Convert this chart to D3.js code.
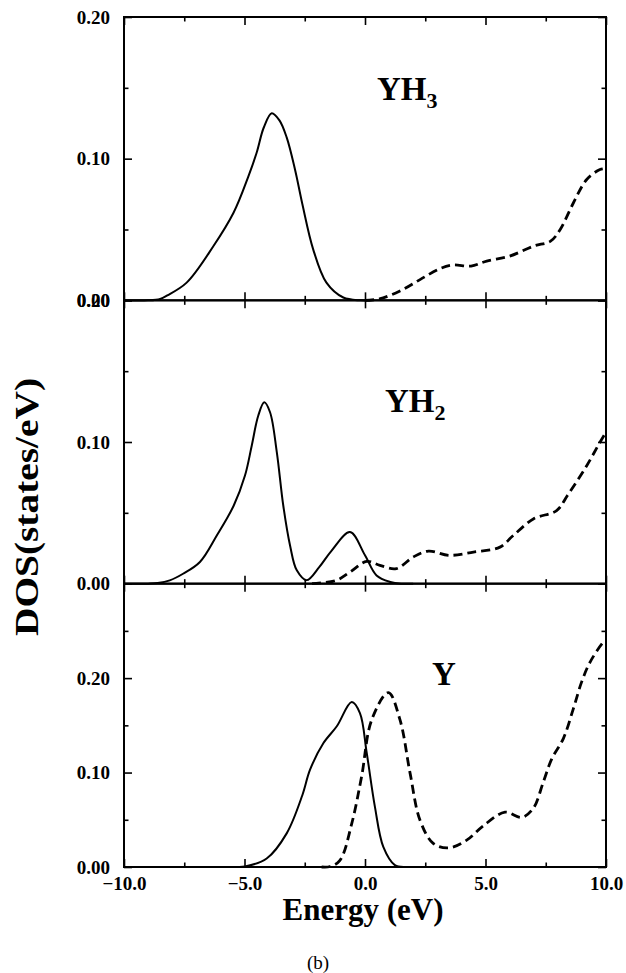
<!DOCTYPE html>
<html>
<head>
<meta charset="utf-8">
<script src="https://cdn.jsdelivr.net/npm/d3@7"></script>
<style>
  body { margin: 0; background: #fff; }
  text { font-family: "Liberation Serif", "Times New Roman", serif; }
</style>
</head>
<body>
<div id="dos-chart"></div>
<script>
// DOS of YH3, YH2 and Y, occupied (solid) and empty (dashed) states

// x axis
var energyTicks = [-10, -5, 0, 5, 10]
var energyMinor = [-7.5, -2.5, 2.5, 7.5]

// panel names, y ranges and y tick labels (top to bottom)
var panelNames = ["YH3", "YH2", "Y"]
var panelMax = [0.20, 0.20, 0.30]
var panelTicks = [[0, 0.1, 0.2], [0, 0.1, 0.2], [0, 0.1, 0.2]]
var panelMinor = [[0.05, 0.15], [0.05, 0.15], [0.05, 0.15, 0.25]]

// [energy, DOS]
var yh3Solid = [[-10, 0], [-9, 0], [-8.5, 0.001], [-8.2, 0.0035], [-7.4, 0.0125], [-6.3, 0.038], [-5.45, 0.062],
  [-4.85, 0.087], [-4.5, 0.104], [-4.2, 0.122], [-3.87, 0.132], [-3.55, 0.127], [-3.25, 0.115],
  [-2.9, 0.092], [-2.6, 0.068], [-2.15, 0.036], [-1.6, 0.0125], [-0.9, 0.002], [-0.2, 0], [0.2, 0]]
var yh3Dashed = [[0, 0], [0.6, 0.001], [1.45, 0.0066], [2.3, 0.0148], [3.1, 0.0223], [3.65, 0.0249],
  [4.4, 0.0242], [5.05, 0.0277], [6.0, 0.0312], [7.0, 0.0383], [7.7, 0.0418], [8.1, 0.05],
  [8.65, 0.0689], [9.2, 0.0853], [9.75, 0.0923], [10, 0.093]]

var yh2Solid = [[-10, 0], [-9, 0], [-8.6, 0.0004], [-8.1, 0.0023], [-7.55, 0.007], [-6.85, 0.0153],
  [-6.15, 0.034], [-5.45, 0.055], [-4.98, 0.0763], [-4.7, 0.0974], [-4.43, 0.1185], [-4.18, 0.128],
  [-3.94, 0.121], [-3.66, 0.0929], [-3.39, 0.055], [-3.11, 0.027], [-2.83, 0.0094], [-2.42, 0.0025],
  [-1.9, 0.0117], [-1.4, 0.023], [-0.62, 0.0364], [0, 0.02], [0.48, 0.0058], [1.05, 0.0012], [1.5, 0], [2, 0]]
var yh2Dashed = [[-2.2, 0], [-1.2, 0.0023], [-0.62, 0.0082], [0.07, 0.0157], [0.62, 0.0129],
  [1.3, 0.0106], [2.0, 0.0188], [2.63, 0.023], [3.5, 0.02], [4.5, 0.0223], [5.6, 0.0258],
  [6.15, 0.034], [7.0, 0.0458], [7.95, 0.0516], [8.4, 0.0622], [9.2, 0.0833], [9.75, 0.0998], [10, 0.107]]

var ySolid = [[-5.3, 0], [-4.98, 0.0005], [-4.08, 0.009], [-3.25, 0.0356], [-2.6, 0.076], [-2.28, 0.103],
  [-1.73, 0.131], [-1.17, 0.149], [-0.55, 0.1747], [-0.21, 0.163], [0.07, 0.121], [0.41, 0.064],
  [0.76, 0.0213], [1.24, 0.002], [1.6, 0]]
var yDashed = [[-1.8, 0], [-1.45, 0.0005], [-1.04, 0.007], [-0.55, 0.046], [-0.14, 0.096], [0.28, 0.156],
  [0.97, 0.1847], [1.45, 0.156], [1.87, 0.0994], [2.28, 0.0497], [2.83, 0.025], [3.46, 0.0202],
  [4.22, 0.0284], [4.91, 0.0437], [5.81, 0.058], [6.5, 0.0525], [6.98, 0.062], [7.4, 0.09],
  [7.75, 0.1145], [8.23, 0.136], [8.65, 0.168], [8.99, 0.196], [9.34, 0.217], [9.89, 0.238], [10, 0.24]]

var solidSeries = [yh3Solid, yh2Solid, ySolid]
var dashedSeries = [yh3Dashed, yh2Dashed, yDashed]

var W = 626, H = 973
var plotL = 124, plotR = 606, plotT = 17, plotB = 867
var panelH = (plotB - plotT) / 3

var svg = d3.select("#dos-chart").append("svg")
  .attr("width", W)
  .attr("height", H)

var x = d3.scaleLinear().domain([-10, 10]).range([plotL, plotR])

var line = d3.line().curve(d3.curveCatmullRom)

// one panel per compound
panelNames.forEach(function(name, i){
  var y0 = plotT + i * panelH
  var y = d3.scaleLinear().domain([0, panelMax[i]]).range([y0 + panelH, y0])
  var g = svg.append("g")

  line.x(function(d){ return x(d[0]) }).y(function(d){ return y(d[1]) })

  g.append("path").datum(solidSeries[i])
    .attr("d", line)
    .attr("fill", "none")
    .attr("stroke", "#000")
    .attr("stroke-width", 2)

  g.append("path").datum(dashedSeries[i])
    .attr("d", line)
    .attr("fill", "none")
    .attr("stroke", "#000")
    .attr("stroke-width", 2.8)
    .attr("stroke-dasharray", "9,5")

  // left axis with labels, ticks inside
  g.append("g").attr("transform", "translate(" + plotL + ",0)")
    .call(d3.axisLeft(y).tickValues(panelTicks[i]).tickFormat(d3.format(".2f"))
      .tickSize(-8).tickPadding(14))
  g.append("g").attr("transform", "translate(" + plotL + ",0)")
    .call(d3.axisLeft(y).tickValues(panelMinor[i]).tickFormat("").tickSize(-4.5))
  g.append("g").attr("transform", "translate(" + plotR + ",0)")
    .call(d3.axisRight(y).tickValues(panelTicks[i]).tickFormat("").tickSize(-8))
  g.append("g").attr("transform", "translate(" + plotR + ",0)")
    .call(d3.axisRight(y).tickValues(panelMinor[i]).tickFormat("").tickSize(-4.5))

  // top and bottom x ticks inside the panel
  g.append("g").attr("transform", "translate(0," + y0 + ")")
    .call(d3.axisTop(x).tickValues(energyTicks).tickFormat("").tickSize(-8))
  g.append("g").attr("transform", "translate(0," + y0 + ")")
    .call(d3.axisTop(x).tickValues(energyMinor).tickFormat("").tickSize(-4.5))
  g.append("g").attr("transform", "translate(0," + (y0 + panelH) + ")")
    .call(d3.axisBottom(x).tickValues(energyTicks)
      .tickFormat(i == 2 ? d3.format(".1f") : "").tickSize(-8).tickPadding(10))
  g.append("g").attr("transform", "translate(0," + (y0 + panelH) + ")")
    .call(d3.axisBottom(x).tickValues(energyMinor).tickFormat("").tickSize(-4.5))

  g.selectAll(".domain").remove()
  g.selectAll(".tick line").attr("stroke", "#000").attr("stroke-width", 1.6)
  g.selectAll(".tick text")
    .attr("font-family", "Liberation Serif")
    .attr("font-weight", "bold")
    .attr("font-size", 19)
    .attr("fill", "#000")

  g.append("rect")
    .attr("x", plotL).attr("y", y0)
    .attr("width", plotR - plotL).attr("height", panelH)
    .attr("fill", "none")
    .attr("stroke", "#000")
    .attr("stroke-width", 2)
})

// compound labels inside the panels
var labelPos = [[377, 100], [385, 412], [432, 685]]
panelNames.forEach(function(name, i){
  var t = svg.append("text")
    .attr("x", labelPos[i][0])
    .attr("y", labelPos[i][1])
    .attr("font-weight", "bold")
    .attr("font-size", 33)
  t.append("tspan").text(name.replace(/\d/, ""))
  var sub = name.replace(/\D/g, "")
  if (sub) t.append("tspan").attr("font-size", 22).attr("dy", 8).text(sub)
})

// axis titles
svg.append("text")
  .attr("x", 363).attr("y", 920)
  .attr("text-anchor", "middle")
  .attr("font-weight", "bold")
  .attr("font-size", 31)
  .text("Energy (eV)")

svg.append("text")
  .attr("transform", "translate(38,507) rotate(-90)")
  .attr("text-anchor", "middle")
  .attr("font-weight", "bold")
  .attr("font-size", 33)
  .attr("textLength", 258)
  .attr("lengthAdjust", "spacingAndGlyphs")
  .text("DOS(states/eV)")

svg.append("text")
  .attr("x", 318).attr("y", 969)
  .attr("text-anchor", "middle")
  .attr("font-size", 19)
  .text("(b)")
</script>
</body>
</html>
